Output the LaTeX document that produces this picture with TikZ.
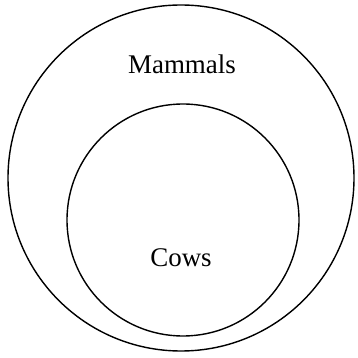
\documentclass[tikz,border=0pt]{standalone}
\usepackage{fontspec}
\setmainfont{Liberation Serif}
\usepackage{tikz}

\begin{document}
\begin{tikzpicture}[x=0.03cm, y=0.03cm, line width=1.2pt, font=\fontsize{23}{27}\selectfont]
  \useasboundingbox (0,0) rectangle (358,357);
  % ---------------------------------------------------------------- the two sets
  \draw (181,179) circle (173);
  \draw (183,137) circle (116);
  \node[inner sep=0pt] (mammals) at (182,293) {Mammals};
  \node[inner sep=0pt] (cows) at (181,99) {Cows};
\end{tikzpicture}
\end{document}
